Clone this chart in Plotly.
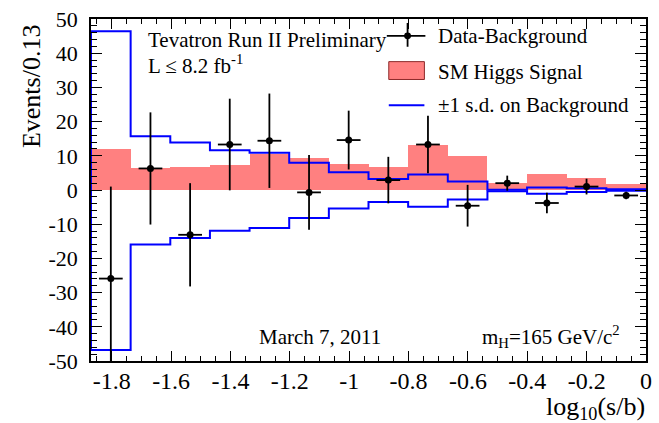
import numpy as np
import plotly.graph_objects as go

# ---------------- data ----------------
x_lo, x_hi, n_bins = -1.87, 0.0, 14
edges = np.linspace(x_lo, x_hi, n_bins + 1)
centers = 0.5 * (edges[:-1] + edges[1:])
bin_width = edges[1] - edges[0]

signal = [12.0, 6.3, 6.8, 7.3, 10.4, 9.4, 7.6, 6.8, 13.3, 9.9, 2.0, 4.7, 3.6, 1.8]
bkg_up = [46.4, 15.7, 13.9, 11.6, 10.9, 8.0, 5.2, 3.2, 4.5, 2.5, 0.1, 0.7, 0.5, 0.2]
bkg_dn = [-46.8, -15.9, -14.0, -11.9, -11.1, -8.2, -5.4, -3.5, -4.9, -2.8, -0.4, -1.1, -0.6, -0.2]
data = [-25.9, 6.3, -13.1, 13.3, 14.4, -0.7, 14.6, 2.9, 13.3, -4.6, 2.0, -3.8, 1.0, -1.6]
data_err = [26.9, 16.4, 15.1, 13.4, 13.8, 10.9, 8.6, 6.8, 8.4, 6.1, 2.2, 3.0, 2.3, 1.1]
data_xerr = 0.04

x_tickvals = [-1.8, -1.6, -1.4, -1.2, -1.0, -0.8, -0.6, -0.4, -0.2, 0.0]
x_ticktext = ["-1.8", "-1.6", "-1.4", "-1.2", "-1", "-0.8", "-0.6", "-0.4", "-0.2", "0"]
y_tickvals = [50, 40, 30, 20, 10, 0, -10, -20, -30, -40, -50]
y_ticktext = ["50", "40", "30", "20", "10", "0", "-10", "-20", "-30", "-40", "-50"]

# ---------------- geometry ----------------
W, H = 659, 423
L, R, T, B = 91, 7, 16, 62
PW, PH = W - L - R, H - T - B
FONT = "Liberation Serif, Times New Roman, serif"
PINK = "rgb(255,128,128)"
BLUE = "rgb(0,0,255)"


def px(x):
    return (x - L) / PW


def py(y):
    return (H - B - y) / PH


def step_xy(vals):
    xs = [edges[0]] + list(edges[:-1]) + [edges[-1], edges[-1]]
    ys = [0] + list(vals) + [vals[-1], 0]
    return xs, ys


fig = go.Figure()

fig.add_trace(go.Bar(x=centers, y=signal, width=bin_width, marker=dict(color=PINK, line=dict(width=0)),
                     name="SM Higgs Signal"))

ux, uy = step_xy(bkg_up)
fig.add_trace(go.Scatter(x=ux, y=uy, mode="lines", line=dict(color=BLUE, width=2, shape="hv"),
                         name="±1 s.d. on Background"))
lx, ly = step_xy(bkg_dn)
fig.add_trace(go.Scatter(x=lx, y=ly, mode="lines", line=dict(color=BLUE, width=2, shape="hv"),
                         showlegend=False))

fig.add_trace(go.Scatter(
    x=centers, y=data, mode="markers",
    marker=dict(color="black", size=7),
    error_y=dict(type="data", array=data_err, color="black", thickness=1.8, width=0),
    error_x=dict(type="constant", value=data_xerr, color="black", thickness=1.8, width=0),
    name="Data-Background"))

axis_common = dict(
    showline=True, linecolor="black", linewidth=1.5, mirror="allticks",
    ticks="inside", tickcolor="black", tickwidth=1.2,
    showgrid=False, zeroline=False,
)

fig.update_xaxes(range=[x_lo, x_hi], tickvals=x_tickvals, ticktext=x_ticktext, ticklen=10,
                 tickfont=dict(family=FONT, size=24, color="black"), ticklabelstandoff=-3,
                 minor=dict(dtick=0.05, tick0=0, ticks="inside", ticklen=5, tickcolor="black", tickwidth=1),
                 **axis_common)
fig.update_yaxes(range=[-50, 50], tickvals=y_tickvals, ticktext=y_ticktext, ticklen=11,
                 tickfont=dict(family=FONT, size=22, color="black"), ticklabelstandoff=7,
                 minor=dict(dtick=2, tick0=0, ticks="inside", ticklen=6, tickcolor="black", tickwidth=1),
                 **axis_common)

shapes = []
# legend symbols
shapes.append(dict(type="line", xref="paper", yref="paper", x0=px(390), x1=px(429), y0=py(33), y1=py(33),
                   line=dict(color="black", width=1.8)))
shapes.append(dict(type="line", xref="paper", yref="paper", x0=px(411), x1=px(411), y0=py(20), y1=py(44),
                   line=dict(color="black", width=1.8)))
shapes.append(dict(type="circle", xref="paper", yref="paper", x0=px(407.5), x1=px(414.5), y0=py(29.5),
                   y1=py(36.5), fillcolor="black", line=dict(color="black", width=0)))
shapes.append(dict(type="rect", xref="paper", yref="paper", x0=px(392), x1=px(428), y0=py(59), y1=py(77),
                   fillcolor=PINK, line=dict(color="rgb(140,40,40)", width=1)))
shapes.append(dict(type="line", xref="paper", yref="paper", x0=px(392), x1=px(428), y0=py(103), y1=py(103),
                   line=dict(color=BLUE, width=2)))

ann = []


def text(s, x, y, size=21, xanchor="left", yanchor="middle", angle=0):
    ann.append(dict(text=s, x=px(x), y=py(y), xref="paper", yref="paper", showarrow=False,
                    xanchor=xanchor, yanchor=yanchor, textangle=angle,
                    font=dict(family=FONT, size=size, color="black")))


text("Data-Background", 440, 33)
text("SM Higgs Signal", 440, 69)
text("±1 s.d. on Background", 440, 103)
text("Tevatron Run II Preliminary", 147, 37)
text("L ≤ 8.2 fb<sup>-1</sup>", 147, 62)
text("March 7, 2011", 259, 337)
text("m<sub>H</sub>=165 GeV/c<sup>2</sup>", 484, 336)
text("log<sub>10</sub>(s/b)", 653, 408, size=26, xanchor="right")
text("Events/0.13", 31, 84, size=26, xanchor="center", angle=-90)

fig.update_layout(
    width=W, height=H, margin=dict(l=L, r=R, t=T, b=B, pad=0),
    paper_bgcolor="white", plot_bgcolor="white",
    showlegend=False, bargap=0, barmode="overlay",
    shapes=shapes, annotations=ann,
    font=dict(family=FONT, color="black"),
)

fig.write_html("out.html")
